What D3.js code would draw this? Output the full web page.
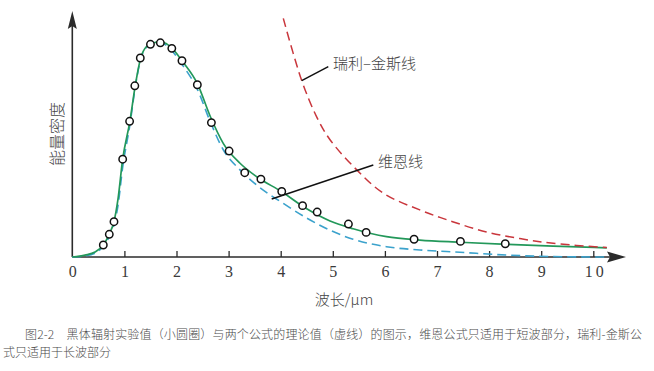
<!DOCTYPE html>
<html lang="zh">
<head>
    <meta charset="UTF-8">
    <title>黑体辐射</title>
    <style>
        body { margin: 0; background: #ffffff; }
        svg { display: block; }
    </style>
</head>
<body>
    <div id="chart"></div>

    <script src="https://d3js.org/d3.v7.min.js"></script>

    <script>
        // tick labels on the wavelength axis
        const tickValues = [0, 1, 2, 3, 4, 5, 6, 7, 8, 9, 10];

        // measured points (small circles)
        const expX = [0.595, 0.71, 0.80, 0.967, 1.10, 1.20, 1.305, 1.50, 1.69, 1.91, 2.105, 2.40, 2.67, 3.01, 3.31, 3.62, 4.02, 4.42, 4.70, 5.30, 5.64, 6.56, 7.45, 8.31];
        const expY = [5.6, 10.6, 16.5, 45.7, 63.4, 80.0, 93.0, 99.4, 100.1, 97.5, 91.7, 80.5, 62.8, 49.5, 39.4, 36.4, 30.6, 24.0, 21.0, 15.4, 11.5, 8.3, 7.3, 6.2];

        // solid green curve and blue dashed curve
        const curveX = [0, 0.244, 0.436, 0.595, 0.71, 0.80, 0.877, 0.967, 1.107, 1.209, 1.313, 1.434, 1.549, 1.683, 1.80, 1.908, 2.106, 2.407, 2.643, 2.90, 3.219, 3.54, 4.02, 4.50, 4.947, 5.39, 6.03, 6.67, 7.44, 8.34, 9.23, 10.26];
        const planckY = [0, 0.9, 2.3, 5.6, 10.7, 16.5, 27.0, 45.7, 63.6, 80.2, 93.0, 98.6, 100.0, 100.5, 99.8, 97.7, 91.7, 80.7, 66.0, 53.0, 43.8, 37.5, 30.5, 22.5, 16.8, 13.2, 9.5, 7.9, 6.9, 5.9, 5.1, 4.3];
        const wienY = [0, 0.5, 1.8, 5.0, 9.5, 15.0, 24.0, 42.0, 62.0, 79.5, 92.5, 98.3, 99.8, 100.0, 99.0, 96.5, 90.0, 78.0, 63.5, 50.0, 40.7, 33.6, 25.5, 18.2, 12.5, 8.3, 4.8, 3.3, 2.2, 0.9, 0.2, 0];

        // red dashed curve
        const rjX = [4.05, 4.40, 4.69, 4.95, 5.46, 5.97, 6.67, 7.30, 7.95, 8.59, 9.23, 10.26];
        const rjY = [111.5, 82.7, 65.5, 54.7, 40.7, 29.8, 22.0, 16.5, 11.7, 8.6, 6.4, 4.4];

        const width = 654, height = 371;

        const svg = d3.select("#chart").append("svg")
            .attr("width", width)
            .attr("height", height);

        const x = d3.scaleLinear().domain([0, 10]).range([72.3, 593.3]);
        const y = d3.scaleLinear().domain([0, 100]).range([257, 43]);

        const serif = "'Liberation Serif', 'DejaVu Serif', serif";
        const cjk = "'Noto Sans CJK SC', sans-serif";

        // x axis ticks (pointing up) and labels
        const xAxis = d3.axisBottom(x)
            .tickValues(tickValues)
            .tickSizeInner(-6)
            .tickSizeOuter(0)
            .tickPadding(9)
            .tickFormat(d3.format("d"));

        const gx = svg.append("g")
            .attr("transform", `translate(0,${y(0)})`)
            .call(xAxis);
        gx.select(".domain").remove();
        gx.selectAll(".tick line")
            .attr("stroke", "#2b2b2b")
            .attr("stroke-width", 1.3)
            .filter(d => d === 0).remove();
        gx.selectAll(".tick text")
            .attr("font-family", serif)
            .attr("font-size", 16)
            .attr("fill", "#3a3a3a")
            .attr("letter-spacing", d => d === 10 ? 3 : 0)
            .attr("dx", d => d === 10 ? 2 : 0);

        // axis lines with arrow heads
        svg.append("line")
            .attr("x1", x(0)).attr("y1", y(0))
            .attr("x2", 612).attr("y2", y(0))
            .attr("stroke", "#2b2b2b").attr("stroke-width", 1.6);
        svg.append("path")
            .attr("d", `M626,${y(0)} L607,${y(0) - 5.5} L610,${y(0)} L607,${y(0) + 5.5} Z`)
            .attr("fill", "#2b2b2b");

        svg.append("line")
            .attr("x1", x(0)).attr("y1", y(0))
            .attr("x2", x(0)).attr("y2", 26)
            .attr("stroke", "#2b2b2b").attr("stroke-width", 1.6);
        svg.append("path")
            .attr("d", `M${x(0)},11 L${x(0) - 4.5},29 L${x(0)},26 L${x(0) + 4.5},29 Z`)
            .attr("fill", "#2b2b2b");

        const line = d3.line()
            .x(d => x(d[0]))
            .y(d => y(d[1]))
            .curve(d3.curveMonotoneX);

        // Wien (blue dashed)
        svg.append("path")
            .datum(curveX.map((v, i) => [v, wienY[i]]))
            .attr("d", line)
            .attr("fill", "none")
            .attr("stroke", "#3ba2cc")
            .attr("stroke-width", 1.6)
            .attr("stroke-dasharray", "9,5");

        // Planck (green solid)
        svg.append("path")
            .datum(curveX.map((v, i) => [v, planckY[i]]))
            .attr("d", line)
            .attr("fill", "none")
            .attr("stroke", "#23985a")
            .attr("stroke-width", 1.7);

        // Rayleigh-Jeans (red dashed)
        svg.append("path")
            .datum(rjX.map((v, i) => [v, rjY[i]]))
            .attr("d", line.curve(d3.curveCatmullRom))
            .attr("fill", "none")
            .attr("stroke", "#c9363c")
            .attr("stroke-width", 1.5)
            .attr("stroke-dasharray", "9,5");

        // measured points
        svg.selectAll("circle.exp")
            .data(expX.map((v, i) => [v, expY[i]]))
            .enter()
            .append("circle")
                .attr("class", "exp")
                .attr("cx", d => x(d[0]))
                .attr("cy", d => y(d[1]))
                .attr("r", 3.7)
                .attr("fill", "#fff")
                .attr("stroke", "#111")
                .attr("stroke-width", 1.5);

        // annotations with leader lines
        svg.append("line")
            .attr("x1", 301.7).attr("y1", 80.7)
            .attr("x2", 328.3).attr("y2", 66.7)
            .attr("stroke", "#111").attr("stroke-width", 1.5);
        svg.append("text")
            .attr("x", 333).attr("y", 69)
            .attr("font-family", cjk)
            .attr("font-weight", 300)
            .attr("font-size", 15)
            .attr("fill", "#444")
            .text("瑞利–金斯线");

        svg.append("line")
            .attr("x1", 271.7).attr("y1", 199)
            .attr("x2", 373.3).attr("y2", 165)
            .attr("stroke", "#111").attr("stroke-width", 1.5);
        svg.append("text")
            .attr("x", 378).attr("y", 167)
            .attr("font-family", cjk)
            .attr("font-weight", 300)
            .attr("font-size", 15)
            .attr("fill", "#444")
            .text("维恩线");

        // axis titles
        svg.append("text")
            .attr("transform", "translate(63,134) rotate(-90)")
            .attr("text-anchor", "middle")
            .attr("font-family", cjk)
            .attr("font-weight", 300)
            .attr("font-size", 16)
            .attr("fill", "#444")
            .text("能量密度");

        svg.append("text")
            .attr("x", 344).attr("y", 305)
            .attr("text-anchor", "middle")
            .attr("font-family", cjk)
            .attr("font-weight", 300)
            .attr("font-size", 15)
            .attr("fill", "#444")
            .text("波长/μm");

        // caption
        svg.append("text")
            .attr("x", 25).attr("y", 339)
            .attr("font-family", cjk)
            .attr("font-weight", 300)
            .attr("font-size", 12)
            .attr("fill", "#4a4a4a")
            .attr("textLength", 617)
            .attr("lengthAdjust", "spacing")
            .text("图2-2　黑体辐射实验值（小圆圈）与两个公式的理论值（虚线）的图示，维恩公式只适用于短波部分，瑞利-金斯公");
        svg.append("text")
            .attr("x", 3).attr("y", 357)
            .attr("font-family", cjk)
            .attr("font-weight", 300)
            .attr("font-size", 12)
            .attr("fill", "#4a4a4a")
            .text("式只适用于长波部分");
    </script>
</body>
</html>
